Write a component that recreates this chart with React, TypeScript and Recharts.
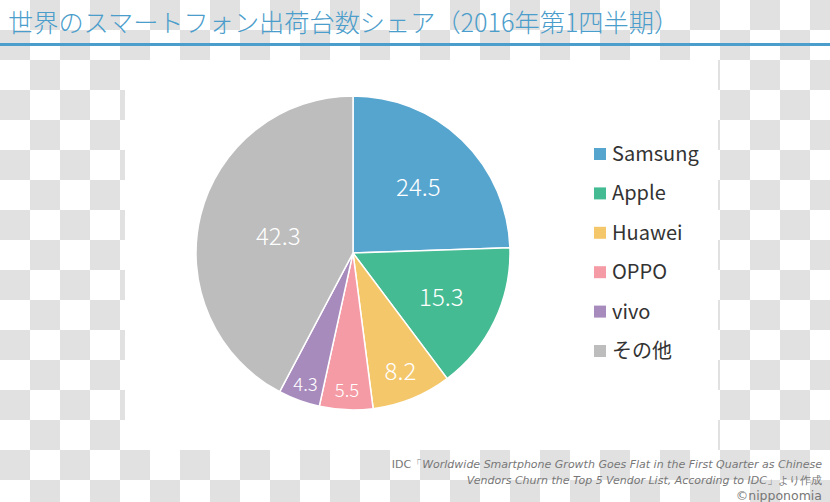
import React from "react";
import { PieChart, Pie, Cell } from "recharts";

const vendors = ["Samsung", "Apple", "Huawei", "OPPO", "vivo", "その他"];
const shares = [24.5, 15.3, 8.2, 5.5, 4.3, 42.3];
const colors = ["#56a5cf", "#44bb92", "#f4c76b", "#f59ba5", "#a78bbd", "#bdbdbd"];
const labelRadius = [94, 98, 126, 136, 138, 77];
const labelSize = [24, 24, 24, 18.5, 18.5, 24];

const title = "世界のスマートフォン出荷台数シェア（2016年第1四半期）";
const sourcePrefix = "IDC「";
const sourceLine1 = "Worldwide Smartphone Growth Goes Flat in the First Quarter as Chinese";
const sourceLine2 = "Vendors Churn the Top 5 Vendor List, According to IDC";
const sourceSuffix = "」より作成";
const credit = "©nipponomia";

const data = vendors.map((name, i) => ({ name, value: shares[i] }));

const RAD = Math.PI / 180;
const FONT = "'Noto Sans CJK JP', 'Noto Sans', sans-serif";

const renderLabel = (props: any) => {
  const { cx, cy, midAngle, index, value } = props;
  const r = labelRadius[index];
  const x = cx + r * Math.cos(-midAngle * RAD);
  const y = cy + r * Math.sin(-midAngle * RAD);
  return (
    <text
      x={x}
      y={y}
      fill="#ffffff"
      textAnchor="middle"
      dominantBaseline="central"
      fontSize={labelSize[index]}
      fontFamily={FONT}
      fontWeight={300}
    >
      {value.toFixed(1)}
    </text>
  );
};

export default function App() {
  return (
    <div
      style={{
        position: "absolute",
        left: 0,
        top: 0,
        width: 830,
        height: 502,
        overflow: "hidden",
        background: "repeating-conic-gradient(#e1e1e1 0 25%, #ffffff 0 50%) 0 0 / 60px 60px",
      }}
    >
      <div
        style={{
          position: "absolute",
          left: 125,
          top: 60,
          width: 593,
          height: 390,
          background: "#ffffff",
        }}
      />
      <svg
        width={830}
        height={502}
        style={{ position: "absolute", left: 0, top: 0 }}
      >
        <text x={8} y={32} fontSize={25.2} fill="#4b9dcb" fontFamily={FONT} fontWeight={300}>
          {title}
        </text>
        <rect x={0} y={43} width={830} height={3} fill="#4b9dcb" />
        <g fontFamily="'DejaVu Sans', Verdana, sans-serif" fontSize={11} fill="#777777" textAnchor="end">
          <text x={822} y={468}>
            <tspan>{sourcePrefix}</tspan>
            <tspan fontStyle="italic">{sourceLine1}</tspan>
          </text>
          <text x={822} y={484}>
            <tspan fontStyle="italic">{sourceLine2}</tspan>
            <tspan>{sourceSuffix}</tspan>
          </text>
          <text x={822} y={500} fontSize={12.5}>{credit}</text>
        </g>
        <g fontFamily={FONT} fontSize={20} fill="#333333">
          {vendors.map((v, i) => (
            <g key={v}>
              <rect x={594} y={148 + i * 39.4} width={12} height={12} fill={colors[i]} />
              <text x={612} y={152.5 + i * 39.4} dominantBaseline="central">
                {v}
              </text>
            </g>
          ))}
        </g>
      </svg>
      <div style={{ position: "absolute", left: 0, top: 0 }}>
        <PieChart width={830} height={502} margin={{ top: 0, right: 0, bottom: 0, left: 0 }}>
          <Pie
            data={data}
            dataKey="value"
            nameKey="name"
            cx={353}
            cy={253}
            outerRadius={157}
            startAngle={90}
            endAngle={-270}
            stroke="#ffffff"
            strokeWidth={1.5}
            label={renderLabel}
            labelLine={false}
            isAnimationActive={false}
          >
            {data.map((d, i) => (
              <Cell key={d.name} fill={colors[i]} />
            ))}
          </Pie>
        </PieChart>
      </div>
    </div>
  );
}
